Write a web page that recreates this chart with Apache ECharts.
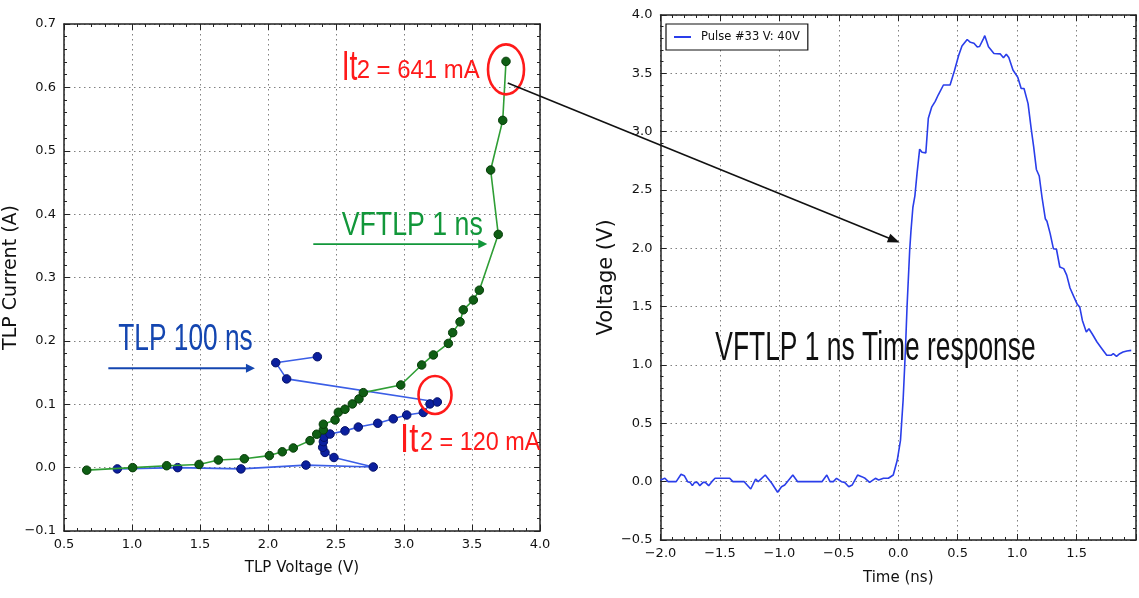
<!DOCTYPE html>
<html>
<head>
<meta charset="utf-8">
<script src="https://cdn.jsdelivr.net/npm/echarts@6/dist/echarts.min.js"></script>
<style>html,body{margin:0;padding:0;background:#fff}#c{width:1139px;height:598px}</style>
</head>
<body>
<div id="c"></div>
<script>
// ---------- data ----------
// TLP 100 ns (blue), in measurement order
const tlpV = [0.892, 1.336, 1.801, 2.279, 2.774, 2.485, 2.419, 2.402, 2.407, 2.412, 2.456, 2.566, 2.664, 2.807, 2.921, 3.020, 3.142, 3.191, 3.245, 2.137, 2.057, 2.363];
const tlpI = [-0.002, 0.000, -0.002, 0.004, 0.001, 0.016, 0.024, 0.032, 0.041, 0.048, 0.053, 0.058, 0.064, 0.070, 0.077, 0.083, 0.087, 0.1005, 0.1036, 0.140, 0.1656, 0.175];
// VFTLP 1 ns (green)
const vfV = [0.667, 1.005, 1.255, 1.493, 1.635, 1.826, 2.010, 2.105, 2.186, 2.309, 2.358, 2.407, 2.407, 2.493, 2.517, 2.566, 2.620, 2.669, 2.701, 2.976, 3.130, 3.216, 3.326, 3.358, 3.412, 3.436, 3.510, 3.554, 3.693, 3.637, 3.726, 3.750];
const vfI = [-0.004, 0.000, 0.003, 0.005, 0.012, 0.014, 0.019, 0.025, 0.031, 0.0426, 0.0527, 0.0595, 0.0685, 0.0752, 0.0874, 0.0921, 0.1005, 0.1084, 0.1183, 0.1304, 0.162, 0.1778, 0.196, 0.213, 0.230, 0.249, 0.2645, 0.280, 0.368, 0.4696, 0.548, 0.641];
// Pulse #33 time response
const pulseT = [-2.000, -1.990, -1.963, -1.936, -1.868, -1.827, -1.800, -1.772, -1.751, -1.732, -1.713, -1.691, -1.669, -1.642, -1.623, -1.595, -1.568, -1.541, -1.418, -1.391, -1.296, -1.241, -1.200, -1.178, -1.119, -1.064, -1.015, -0.982, -0.955, -0.887, -0.846, -0.642, -0.601, -0.574, -0.546, -0.519, -0.478, -0.451, -0.416, -0.388, -0.342, -0.307, -0.279, -0.241, -0.192, -0.165, -0.124, -0.083, -0.042, -0.030, -0.008, 0.019, 0.041, 0.060, 0.074, 0.096, 0.107, 0.123, 0.140, 0.158, 0.180, 0.200, 0.232, 0.253, 0.281, 0.311, 0.336, 0.380, 0.436, 0.472, 0.508, 0.536, 0.580, 0.607, 0.637, 0.663, 0.684, 0.718, 0.728, 0.759, 0.805, 0.857, 0.885, 0.909, 0.930, 0.965, 1.006, 1.034, 1.058, 1.092, 1.119, 1.139, 1.162, 1.186, 1.209, 1.237, 1.251, 1.278, 1.305, 1.331, 1.359, 1.392, 1.417, 1.445, 1.475, 1.506, 1.527, 1.549, 1.582, 1.604, 1.631, 1.672, 1.713, 1.754, 1.768, 1.790, 1.809, 1.836, 1.863, 1.891, 1.923, 1.960];
const pulseV = [0.014, 0.029, 0.029, 0.000, 0.000, 0.063, 0.051, 0.000, -0.006, -0.034, -0.006, -0.006, -0.034, -0.006, -0.006, -0.034, 0.000, 0.029, 0.029, 0.000, 0.000, -0.063, 0.023, 0.000, 0.057, -0.014, -0.091, -0.043, -0.029, 0.057, 0.000, 0.000, 0.057, 0.000, 0.000, 0.029, 0.000, -0.006, -0.043, -0.029, 0.057, 0.043, 0.029, -0.006, 0.029, 0.014, 0.029, 0.029, 0.057, 0.060, 0.185, 0.356, 0.700, 1.120, 1.500, 1.980, 2.150, 2.350, 2.450, 2.643, 2.850, 2.824, 2.818, 3.115, 3.210, 3.260, 3.314, 3.400, 3.400, 3.520, 3.653, 3.735, 3.790, 3.766, 3.758, 3.727, 3.730, 3.800, 3.823, 3.727, 3.670, 3.667, 3.633, 3.664, 3.636, 3.529, 3.465, 3.370, 3.370, 3.240, 3.020, 2.871, 2.676, 2.620, 2.440, 2.254, 2.232, 2.126, 1.997, 1.992, 1.840, 1.826, 1.770, 1.660, 1.590, 1.520, 1.496, 1.382, 1.282, 1.311, 1.268, 1.197, 1.140, 1.083, 1.097, 1.083, 1.097, 1.074, 1.097, 1.111, 1.120, 1.125];

// tick values
const leftXTicks = [0.5, 1.0, 1.5, 2.0, 2.5, 3.0, 3.5, 4.0];
const leftYTicks = [-0.1, 0.0, 0.1, 0.2, 0.3, 0.4, 0.5, 0.6, 0.7];
const rightXTicks = [-2.0, -1.5, -1.0, -0.5, 0.0, 0.5, 1.0, 1.5, 2.0];
const rightXLabelMax = 1.5;
const rightYTicks = [-0.5, 0.0, 0.5, 1.0, 1.5, 2.0, 2.5, 3.0, 3.5, 4.0];

const seriesNames = ['TLP 100 ns', 'VFTLP 1 ns', 'Pulse #33 V: 40V'];

// ---------- helpers ----------
const FONT = 'DejaVu Sans';
const AXC = '#222';
const zip = (a, b) => a.map((v, i) => [v, b[i]]);
const fmt = v => v.toFixed(1).replace('-', '\u2212');

function axis(kind, gridIndex, ticks, position, main, labelMax) {
  return {
    type: 'value', gridIndex, position,
    min: ticks[0], max: ticks[ticks.length - 1], interval: ticks[1] - ticks[0],
    axisLine: { show: true, onZero: false, lineStyle: { color: AXC, width: 1.5 } },
    axisTick: { show: true, inside: true, length: 6, lineStyle: { color: AXC, width: 1 } },
    minorTick: { show: true, splitNumber: 5, length: 3, lineStyle: { color: AXC, width: 1 } },
    splitLine: { show: main, lineStyle: { color: '#808080', type: [1.5, 3.5], width: 1 } },
    axisLabel: {
      show: main, color: '#111', fontFamily: FONT, fontSize: 13, margin: kind === 'x' ? 7 : 8,
      formatter: v => (labelMax !== undefined && v > labelMax + 1e-9) ? '' : fmt(v)
    }
  };
}

const chart = echarts.init(document.getElementById('c'), null, { renderer: 'canvas' });

const xAxes = [
  Object.assign(axis('x', 0, leftXTicks, 'bottom', true), {
    name: 'TLP Voltage (V)', nameLocation: 'middle', nameGap: 30,
    nameTextStyle: { fontFamily: FONT, fontSize: 15, color: '#111' }
  }),
  axis('x', 0, leftXTicks, 'top', false),
  Object.assign(axis('x', 1, rightXTicks, 'bottom', true, rightXLabelMax), {
    name: 'Time (ns)', nameLocation: 'middle', nameGap: 31,
    nameTextStyle: { fontFamily: FONT, fontSize: 15, color: '#111' }
  }),
  axis('x', 1, rightXTicks, 'top', false)
];

const yAxes = [
  Object.assign(axis('y', 0, leftYTicks, 'left', true), {
    name: 'TLP Current (A)', nameLocation: 'middle', nameGap: 37,
    nameTextStyle: { fontFamily: FONT, fontSize: 19, color: '#111' }
  }),
  axis('y', 0, leftYTicks, 'right', false),
  Object.assign(axis('y', 1, rightYTicks, 'left', true), {
    name: 'Voltage (V)', nameLocation: 'middle', nameGap: 37,
    nameTextStyle: { fontFamily: FONT, fontSize: 21, color: '#111' }
  }),
  axis('y', 1, rightYTicks, 'right', false)
];

chart.setOption({
  animation: false,
  backgroundColor: '#fff',
  grid: [
    { left: 64, top: 24, width: 476, height: 507 },
    { left: 660.5, top: 15, width: 488, height: 525 }
  ],
  xAxis: xAxes,
  yAxis: yAxes,
  legend: {
    show: true, data: [seriesNames[2]], left: 666, top: 24, orient: 'vertical',
    padding: [7, 8, 7, 8], itemWidth: 17, itemHeight: 2, icon: 'rect',
    borderColor: '#111', borderWidth: 1.2, borderRadius: 0, backgroundColor: '#fff',
    textStyle: { fontFamily: FONT, fontSize: 11.5, color: '#111', padding: [0, 0, 0, 5] },
    selectedMode: false
  },
  series: [
    {
      type: 'line', name: seriesNames[0], xAxisIndex: 0, yAxisIndex: 0, data: zip(tlpV, tlpI),
      symbol: 'circle', symbolSize: 8.5, silent: true,
      lineStyle: { color: '#3b5ee6', width: 1.6 },
      itemStyle: { color: '#0b1f9e', borderColor: '#06126a', borderWidth: 1 }, z: 2
    },
    {
      type: 'line', name: seriesNames[1], xAxisIndex: 0, yAxisIndex: 0, data: zip(vfV, vfI),
      symbol: 'circle', symbolSize: 8.5, silent: true,
      lineStyle: { color: '#2f9e35', width: 1.6 },
      itemStyle: { color: '#0f5e14', borderColor: '#073d09', borderWidth: 1 }, z: 3
    },
    {
      type: 'line', name: seriesNames[2], xAxisIndex: 2, yAxisIndex: 2, data: zip(pulseT, pulseV),
      showSymbol: false, symbol: 'none', silent: true,
      lineStyle: { color: '#2a3eea', width: 1.6 }, itemStyle: { color: '#2a3eea' }
    }
  ]
});

// ---------- annotations (anchored in data coordinates) ----------
const RED = '#ff1a1a', GREEN = '#12973a', BLUE = '#1446b0', BLACK = '#111';
const ANN_FONT = 'Liberation Sans';
const L = p => chart.convertToPixel({ seriesIndex: 0 }, p);
const R = p => chart.convertToPixel({ seriesIndex: 2 }, p);

const texts = [
  { grid: L, at: [2.542, 0.6300], text: 'It', size: 43, sx: 0.66, color: RED },
  { grid: L, at: [2.652, 0.6255], text: '2 = 641 mA', size: 26, sx: 0.92, color: RED },
  { grid: L, at: [2.971, 0.0425], text: 'It', size: 41, sx: 0.8, color: RED },
  { grid: L, at: [3.118, 0.0395], text: '2 = 120 mA', size: 26, sx: 0.9, color: RED },
  { grid: L, at: [2.542, 0.3810], text: 'VFTLP 1 ns', size: 33, sx: 0.81, color: GREEN },
  { grid: L, at: [0.899, 0.201], text: 'TLP 100 ns', size: 36, sx: 0.73, color: BLUE },
  { grid: R, at: [-1.539, 1.14], text: 'VFTLP 1 ns Time response', size: 40, sx: 0.66, color: BLACK }
];
const ellipses = [
  { at: [3.750, 0.6284], rx: 18, ry: 25 },
  { at: [3.228, 0.1147], rx: 16.5, ry: 19 }
];
const arrows = [
  { from: L([2.333, 0.3528]), to: L([3.612, 0.3528]), color: GREEN, w: 1.8, len: 9, half: 4.5 },
  { from: L([0.826, 0.1568]), to: L([1.904, 0.1568]), color: BLUE, w: 1.8, len: 9, half: 4.5 },
  { from: L([3.763, 0.607]), to: R([0.012, 2.05]), color: BLACK, w: 1.6, len: 12, half: 4.5 }
];

const graphics = [];
texts.forEach(t => {
  const p = t.grid(t.at);
  graphics.push({
    type: 'text', x: p[0], y: p[1], scaleX: t.sx, z: 100,
    style: { text: t.text, fill: t.color, fontSize: t.size, fontFamily: ANN_FONT, align: 'left', verticalAlign: 'middle' }
  });
});
ellipses.forEach(e => {
  const p = L(e.at);
  graphics.push({
    type: 'ellipse', z: 100, shape: { cx: p[0], cy: p[1], rx: e.rx, ry: e.ry },
    style: { fill: 'none', stroke: RED, lineWidth: 2.6 }
  });
});
arrows.forEach(a => {
  const [x1, y1] = a.from, [x2, y2] = a.to;
  const dx = x2 - x1, dy = y2 - y1, d = Math.hypot(dx, dy);
  const ux = dx / d, uy = dy / d;
  const bx = x2 - ux * a.len, by = y2 - uy * a.len;
  graphics.push({
    type: 'line', z: 100, shape: { x1, y1, x2: bx + ux * 2, y2: by + uy * 2 },
    style: { stroke: a.color, lineWidth: a.w }
  });
  graphics.push({
    type: 'polygon', z: 100,
    shape: { points: [[x2, y2], [bx - uy * a.half, by + ux * a.half], [bx + uy * a.half, by - ux * a.half]] },
    style: { fill: a.color }
  });
});
chart.setOption({ graphic: graphics });
</script>
</body>
</html>
